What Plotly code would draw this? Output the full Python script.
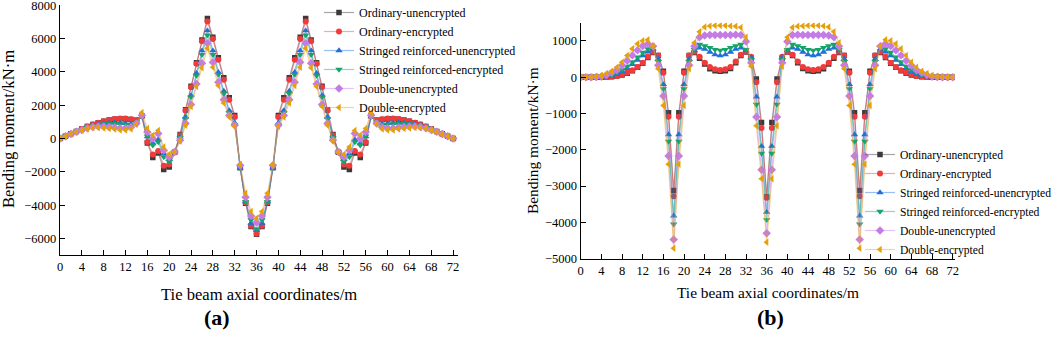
import plotly.graph_objects as go

X = list(range(73))
X_TICKS = list(range(0, 73, 4))
A_Y_TICKS = [-6000, -4000, -2000, 0, 2000, 4000, 6000, 8000]
B_Y_TICKS = [-5000, -4000, -3000, -2000, -1000, 0, 1000]

NAMES = ["Ordinary-unencrypted", "Ordinary-encrypted", "Stringed reinforced-unencrypted",
         "Stringed reinforced-encrypted", "Double-unencrypted", "Double-encrypted"]

# Panel (a)
A_OU = [0,140,290,430,570,720,840,950,1040,1110,1160,1190,1180,1140,1100,1350,-260,-1130,-860,-1850,-1700,-820,250,1730,3140,4540,5910,7200,6070,4840,3640,2450,1390,-1750,-3880,-5270,-5740,
        -5270,-3880,-1750,1390,2450,3640,4840,6070,7200,5910,4540,3140,1730,250,-820,-1700,-1850,-860,-1130,-260,1350,1100,1140,1180,1190,1160,1110,1040,950,840,720,570,430,290,140,0]
A_OE = [0,140,290,430,570,720,840,950,1040,1110,1170,1200,1200,1160,1110,1380,-200,-950,-740,-1630,-1550,-800,200,1690,3080,4480,5830,7020,5970,4720,3520,2330,1290,-1700,-3840,-5230,-5710,
        -5230,-3840,-1700,1290,2330,3520,4720,5970,7020,5830,4480,3080,1690,200,-800,-1550,-1630,-740,-950,-200,1380,1110,1160,1200,1200,1170,1110,1040,950,840,720,570,430,290,140,0]
A_SU = [0,140,290,430,560,690,790,860,910,940,950,940,910,880,1000,1330,120,-300,-60,-900,-1250,-820,100,1290,2590,3920,5270,6470,5270,3980,2850,1690,935,-1750,-3780,-5070,-5510,
        -5070,-3780,-1750,935,1690,2850,3980,5270,6470,5270,3920,2590,1290,100,-820,-1250,-900,-60,-300,120,1330,1000,880,910,940,950,940,910,860,790,690,560,430,290,140,0]
A_SE = [0,140,280,420,550,670,760,820,860,880,890,880,850,830,980,1320,150,-400,-200,-1100,-1390,-820,50,1190,2490,3780,5030,6210,5030,3840,2690,1530,800,-1700,-3780,-4880,-5430,
        -4880,-3780,-1700,800,1530,2690,3840,5030,6210,5030,3780,2490,1190,50,-820,-1390,-1100,-200,-400,150,1320,980,830,850,880,890,880,860,820,760,670,550,420,280,140,0]
A_DU = [0,140,280,410,520,620,700,720,720,700,660,620,620,680,900,1400,400,0,300,-700,-1100,-800,-100,900,2050,3280,4520,5710,4580,3380,2330,1390,800,-1600,-3520,-4640,-5030,
        -4640,-3520,-1600,800,1390,2330,3380,4580,5710,4520,3280,2050,900,-100,-800,-1100,-700,300,0,400,1400,900,680,620,620,660,700,720,720,700,620,520,410,280,140,0]
A_DE = [0,140,270,400,500,590,650,670,640,600,570,520,510,580,880,1570,600,200,480,-500,-940,-800,-150,800,1930,3120,4240,5410,4280,3180,2130,1290,740,-1550,-3280,-4380,-4780,
        -4380,-3280,-1550,740,1290,2130,3180,4280,5410,4240,3120,1930,800,-150,-800,-940,-500,480,200,600,1570,880,580,510,520,570,600,640,670,650,590,500,400,270,140,0]

# Panel (b)
B_OU = [0,0,0,0,0,5,10,30,60,110,180,270,380,540,680,600,160,-980,-3120,-980,160,600,680,520,360,230,180,160,180,240,400,600,690,530,-50,-1250,-3300,
        -1250,-50,530,690,600,400,240,180,160,180,230,360,520,680,600,160,-980,-3120,-980,160,600,680,540,380,270,180,110,60,30,10,5,0,0,0,0,0]
B_OE = [0,0,0,0,0,5,15,35,70,120,190,280,400,560,700,600,120,-1090,-3280,-1090,120,600,700,560,400,280,220,200,220,280,430,620,700,560,-140,-1400,-3320,
        -1400,-140,560,700,620,430,280,220,200,220,280,400,560,700,600,120,-1090,-3280,-1090,120,600,700,560,400,280,190,120,70,35,15,5,0,0,0,0,0]
B_SU = [0,0,0,0,5,20,40,80,150,240,350,470,590,700,780,500,-200,-1580,-3820,-1580,-200,500,730,810,770,690,620,590,620,690,770,810,730,540,-540,-1900,-3720,
        -1900,-540,540,730,810,770,690,620,590,620,690,770,810,730,500,-200,-1580,-3820,-1580,-200,500,780,700,590,470,350,240,150,80,40,20,5,0,0,0,0]
B_SE = [0,0,0,0,10,30,60,120,200,300,420,550,680,780,830,430,-320,-1770,-4050,-1770,-320,430,760,900,860,810,760,740,760,810,860,900,760,480,-750,-2100,-3930,
        -2100,-750,480,760,900,860,810,760,740,760,810,860,900,760,430,-320,-1770,-4050,-1770,-320,430,830,780,680,550,420,300,200,120,60,30,10,0,0,0,0]
B_DU = [0,0,0,5,20,60,120,200,320,450,600,740,860,920,850,330,-520,-2170,-4470,-2170,-520,330,850,1100,1150,1160,1160,1160,1160,1160,1170,1160,980,400,-1100,-2550,-4300,
        -2550,-1100,400,980,1160,1170,1160,1160,1160,1160,1160,1150,1100,850,330,-520,-2170,-4470,-2170,-520,330,850,920,860,740,600,450,320,200,120,60,20,5,0,0,0]
B_DE = [0,0,5,18,46,100,165,275,413,596,780,917,1000,1030,850,230,-780,-2400,-4710,-2400,-780,230,950,1250,1380,1410,1420,1420,1420,1410,1400,1370,1100,300,-1340,-2800,-4550,
        -2800,-1340,300,1100,1370,1400,1410,1420,1420,1420,1410,1380,1250,950,230,-780,-2400,-4710,-2400,-780,230,850,1030,1000,917,780,596,413,275,165,100,46,18,5,0,0]

COLORS = ["#3a3a3a", "#f23a3a", "#1f6fdc", "#14a468", "#c57be6", "#e6a10a"]
LINE_COLORS = ["rgba(58,58,58,0.45)", "rgba(242,58,58,0.45)", "rgba(31,111,220,0.45)",
               "rgba(20,164,104,0.45)", "rgba(197,123,230,0.45)", "rgba(230,161,10,0.45)"]
SYMBOLS = ["square", "circle", "triangle-up", "triangle-down", "diamond", "triangle-left"]
SIZES = [5.5, 6, 6.5, 6.5, 6.5, 6.5]

FONT = "Liberation Serif"

fig = go.Figure()
for i, ys in enumerate([A_OU, A_OE, A_SU, A_SE, A_DU, A_DE]):
    fig.add_trace(go.Scatter(x=X, y=ys, mode="lines+markers", name=NAMES[i],
                             line=dict(color=LINE_COLORS[i], width=1.2),
                             marker=dict(symbol=SYMBOLS[i], size=SIZES[i], color=COLORS[i]),
                             xaxis="x", yaxis="y", legend="legend"))
for i, ys in enumerate([B_OU, B_OE, B_SU, B_SE, B_DU, B_DE]):
    fig.add_trace(go.Scatter(x=X, y=ys, mode="lines+markers", name=NAMES[i],
                             line=dict(color=LINE_COLORS[i], width=1.2),
                             marker=dict(symbol=SYMBOLS[i], size=SIZES[i], color=COLORS[i]),
                             xaxis="x2", yaxis="y2", legend="legend2"))

W, H = 1052, 338
def px(xp): return xp / W
def py(yp): return (H - yp) / H

axis_style = dict(showline=True, linecolor="black", linewidth=1.3, ticks="inside", ticklen=5,
                  tickwidth=1.2, tickcolor="black", showgrid=False, zeroline=False,
                  tickfont=dict(family=FONT, size=12.5, color="black"), mirror=False,
                  automargin=False, ticklabeloverflow="allow")

fig.update_layout(
    width=W, height=H, margin=dict(l=0, r=0, t=0, b=0, autoexpand=False),
    paper_bgcolor="white", plot_bgcolor="white",
    font=dict(family=FONT, color="black"),
    xaxis=dict(domain=[px(60), px(458)], range=[0, 72.9], tickvals=X_TICKS, anchor="y", **axis_style),
    yaxis=dict(domain=[py(255.3), py(5)], range=[-7000, 8010], tickvals=A_Y_TICKS, anchor="x", **axis_style),
    xaxis2=dict(domain=[px(580.7), px(955)], range=[0, 72.45], tickvals=X_TICKS, anchor="y2", **axis_style),
    yaxis2=dict(domain=[py(258.7), py(22.7)], range=[-5000, 1500], tickvals=B_Y_TICKS, anchor="x2", **axis_style),
    legend=dict(x=px(319), y=py(-2), xanchor="left", yanchor="top", bgcolor="rgba(0,0,0,0)",
                font=dict(family=FONT, size=12, color="black"), tracegroupgap=0, itemwidth=30),
    legend2=dict(x=px(860), y=py(140), xanchor="left", yanchor="top", bgcolor="rgba(0,0,0,0)",
                 font=dict(family=FONT, size=11.6, color="black"), tracegroupgap=0, itemwidth=30),
    annotations=[
        dict(text="Tie beam axial coordinates/m", x=px(259), y=py(294), xref="paper", yref="paper",
             showarrow=False, xanchor="center", yanchor="middle", font=dict(family=FONT, size=16.6)),
        dict(text="Bending moment/kN·m", x=px(9), y=py(129), xref="paper", yref="paper",
             showarrow=False, xanchor="center", yanchor="middle", textangle=-90, font=dict(family=FONT, size=16.6)),
        dict(text="Tie beam axial coordinates/m", x=px(768), y=py(292), xref="paper", yref="paper",
             showarrow=False, xanchor="center", yanchor="middle", font=dict(family=FONT, size=15.4)),
        dict(text="Bending moment/kN·m", x=px(532), y=py(141), xref="paper", yref="paper",
             showarrow=False, xanchor="center", yanchor="middle", textangle=-90, font=dict(family=FONT, size=15.4)),
        dict(text="<b>(a)</b>", x=px(217), y=py(317), xref="paper", yref="paper",
             showarrow=False, xanchor="center", yanchor="middle", font=dict(family=FONT, size=22)),
        dict(text="<b>(b)</b>", x=px(770), y=py(317), xref="paper", yref="paper",
             showarrow=False, xanchor="center", yanchor="middle", font=dict(family=FONT, size=22)),
    ],
)

fig.write_html("out.html", config={"displayModeBar": False},
               post_script="document.body.style.margin='0';document.body.style.padding='0';")
